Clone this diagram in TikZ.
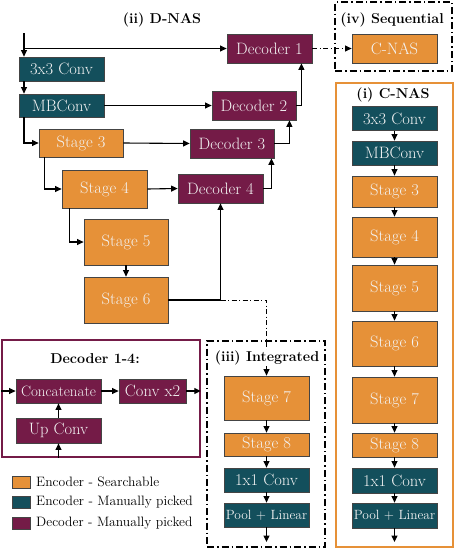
\documentclass[tikz,border=0pt]{standalone}
\usepackage{fontspec}
\usetikzlibrary{arrows.meta,calc}
\definecolor{encc}{HTML}{E69138}
\definecolor{manc}{HTML}{134F5C}
\definecolor{decc}{HTML}{741B47}
\definecolor{bord}{HTML}{444444}
\definecolor{txtw}{HTML}{F3F3F3}
\begin{document}
\begin{tikzpicture}[x=1pt,y=-1pt,
  blk/.style={draw=bord,line width=0.8pt,text=txtw,inner sep=1pt,
    font=\fontsize{16.5}{18}\selectfont,minimum width=85pt},
  encb/.style={blk,fill=encc},
  manb/.style={blk,fill=manc},
  decb/.style={blk,fill=decc},
  midf/.style={font=\fontsize{15}{17}\selectfont},
  plf/.style={font=\fontsize{13.4}{15}\selectfont},
  titlef/.style={font=\fontsize{14.3}{16}\selectfont\bfseries,inner sep=1pt},
  arr/.style={-{Triangle[length=6.5pt,width=6pt]},line width=1.1pt},
  dashdot/.style={dash pattern=on 5pt off 2.5pt on 1pt off 2.5pt},
  dashbox/.style={draw,line width=1.8pt,dash pattern=on 7pt off 3pt on 1.5pt off 3pt},
  legtxt/.style={font=\fontsize{13.6}{15}\selectfont,anchor=west,inner sep=0pt}
]
\useasboundingbox (0,0) rectangle (457,552);

% ---------- (ii) D-NAS ----------
\node[titlef] (tD) at (162,20) {(ii) D-NAS};
\node[manb,minimum height=24pt] (conv1) at (61.5,69) {3x3 Conv};
\node[manb,minimum height=23pt] (mb1) at (61.5,105.5) {MBConv};
\node[encb,minimum width=84pt,minimum height=28pt] (s3) at (81,143) {Stage 3};
\node[encb,minimum height=38pt] (s4) at (104.5,189) {Stage 4};
\node[encb,minimum width=84pt,minimum height=46pt] (s5) at (126,242) {Stage 5};
\node[encb,minimum width=84pt,minimum height=46pt] (s6) at (126,300) {Stage 6};
\node[decb,minimum height=29pt] (d1) at (269.5,48.5) {Decoder 1};
\node[decb,minimum width=84pt,minimum height=29pt] (d2) at (254,105.5) {Decoder 2};
\node[decb,minimum width=84pt,minimum height=29pt] (d3) at (232,143.5) {Decoder 3};
\node[decb,minimum height=29pt] (d4) at (220.5,188.5) {Decoder 4};

\coordinate (in) at (24,33);
\draw[arr] (in) -- (in |- conv1.north);
\draw[arr] (in |- d1.west) -- (d1.west);
\draw[arr] (in |- conv1.south) -- (in |- mb1.north);
\draw[arr] (mb1.east) -- (d2.west);
\draw[arr] (in |- mb1.south) |- (s3.west);
\draw[arr] (s3.east) -- (d3.west);
\draw[arr] ($(s3.south west)+(6,0)$) |- (s4.west);
\draw[arr] (s4.east) -- (d4.west);
\draw[arr] ($(s4.south west)+(8,0)$) |- (s5.west);
\draw[arr] (s5.south) -- (s6.north);
\draw[arr] (s6.east) -| (d4.south);
\draw[arr] (d4.east) -| ($(d3.south east)+(-3,0)$);
\draw[arr] (d3.east) -| ($(d2.south east)+(-7,0)$);
\draw[arr] (d2.east) -| ($(d1.south east)+(-11,0)$);

% ---------- (iv) Sequential ----------
\node[dashbox,minimum width=117pt,minimum height=69pt,inner sep=0pt] (seqbox) at (393.5,36.5) {};
\node[titlef] (tS) at (392,20) {(iv) Sequential};
\node[encb,minimum height=29pt] (sc) at (394.5,48.5) {C-NAS};
\draw[arr,line width=0.9pt,dashdot] (d1.east) -- (sc.west);

% ---------- (i) C-NAS ----------
\node[draw=encc,line width=1.6pt,minimum width=117pt,minimum height=464pt,inner sep=0pt] (cbox) at (394.5,315) {};
\node[titlef] (tC) at (393,95) {(i) C-NAS};
\node[manb,minimum height=24pt] (c1) at (394.5,118.5) {3x3 Conv};
\node[manb,minimum height=24pt] (c2) at (394.5,153) {MBConv};
\node[encb,minimum height=31pt] (c3) at (394.5,191.5) {Stage 3};
\node[encb,minimum height=40pt] (c4) at (394.5,237) {Stage 4};
\node[encb,minimum height=46pt] (c5) at (394.5,288) {Stage 5};
\node[encb,minimum height=45pt] (c6) at (394.5,343.5) {Stage 6};
\node[encb,minimum height=46pt] (c7) at (394.5,400) {Stage 7};
\node[encb,minimum height=24pt] (c8) at (394.5,445) {Stage 8};
\node[manb,minimum height=25pt] (c9) at (394.5,480.5) {1x1 Conv};
\node[manb,plf,minimum height=25pt] (c10) at (394.5,515.5) {Pool + Linear};
\coordinate (cout) at (394.5,542);
\foreach \a/\b in {c1/c2,c2/c3,c3/c4,c4/c5,c5/c6,c6/c7,c7/c8,c8/c9,c9/c10}
  \draw[arr] (\a.south) -- (\b.north);
\draw[arr] (c10.south) -- (cout);

% ---------- (iii) Integrated ----------
\node[encb,minimum height=44pt] (i7) at (266.5,398) {Stage 7};
\node[encb,minimum height=23pt] (i8) at (266.5,444.5) {Stage 8};
\node[manb,minimum height=24pt] (i9) at (266.5,480) {1x1 Conv};
\node[manb,plf,minimum height=24pt] (i10) at (266.5,515) {Pool + Linear};
\coordinate (iout) at (266.5,542);
\draw[arr,line width=0.9pt,dashdot] (d4.south |- s6.east) -- (i7.north |- s6.east) -- (i7.north);
\node[dashbox,minimum width=118pt,minimum height=206pt,inner sep=0pt] (ibox) at (266,444) {};
\node[titlef,fill=white] (tI) at (267,358) {(iii) Integrated};
\draw[arr] (i7.south) -- (i8.north);
\draw[arr] (i8.south) -- (i9.north);
\draw[arr] (i9.south) -- (i10.north);
\draw[arr] (i10.south) -- (iout);

% ---------- Decoder 1-4 ----------
\node[draw=decc,line width=1.6pt,minimum width=198pt,minimum height=117pt,inner sep=0pt] (dbox) at (101,398.5) {};
\node[titlef] (tDe) at (95,359) {Decoder 1-4:};
\node[decb,midf,minimum height=24pt] (cc) at (58.5,391) {Concatenate};
\node[decb,minimum width=67pt,minimum height=24pt] (cx) at (152.5,391) {Conv x2};
\node[decb,minimum height=25pt] (uc) at (58.5,430.5) {Up Conv};
\draw[arr] (dbox.west |- cc.west) -- (cc.west);
\draw[arr] (cc.east) -- (cx.west);
\draw[arr] (cx.east) -- (dbox.east |- cx.east);
\draw[arr] (uc.north) -- (cc.south);
\draw[arr] (dbox.south -| uc.south) -- (uc.south);

% ---------- Legend ----------
\node[draw=bord,line width=0.8pt,fill=encc,minimum width=18.5pt,minimum height=12pt,inner sep=0pt] (l1) at (21.5,482) {};
\node[draw=bord,line width=0.8pt,fill=manc,minimum width=18.5pt,minimum height=12pt,inner sep=0pt] (l2) at (21.5,502.5) {};
\node[draw=bord,line width=0.8pt,fill=decc,minimum width=18.5pt,minimum height=12pt,inner sep=0pt] (l3) at (21.5,523) {};
\node[legtxt] (lt1) at (36,482) {Encoder - Searchable};
\node[legtxt] (lt2) at (36,502.5) {Encoder - Manually picked};
\node[legtxt] (lt3) at (36,523) {Decoder - Manually picked};
\end{tikzpicture}
\end{document}
